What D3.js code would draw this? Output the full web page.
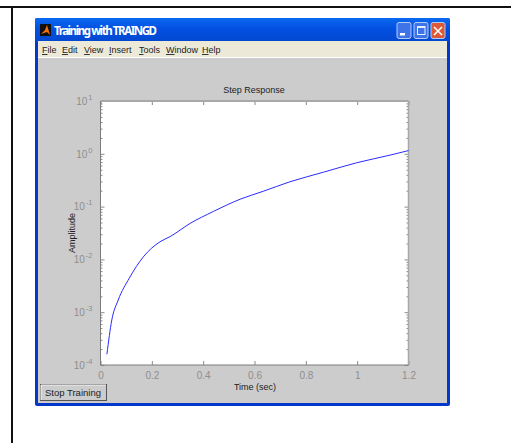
<!DOCTYPE html>
<meta charset="utf-8">
<style>
  body { margin: 0; background: #fff; overflow: hidden; }
  text { font-family: "Liberation Sans", Arial, sans-serif; }
  .tick text { fill: #8e8e8e; font-size: 10px; }
  .tick line { stroke: #8a8a8a; }
  .domain { display: none; }
</style>
<script src="https://d3js.org/d3.v7.min.js"></script>
<svg id="fig" width="511" height="443"></svg>
<script>

// step response
var times = [0.025, 0.044, 0.069, 0.112, 0.167, 0.232, 0.271, 0.349, 0.44, 0.544, 0.634, 0.738, 0.868, 0.998, 1.128, 1.2];
var amplitude = [1.6e-4, 7.1e-4, 1.7e-3, 4.4e-3, 1.12e-2, 2.16e-2, 2.7e-2, 4.8e-2, 8.1e-2, 0.138, 0.195, 0.295, 0.447, 0.676, 0.944, 1.15];

var xTicks = [0, 0.2, 0.4, 0.6, 0.8, 1, 1.2];
var decades = [-4, -3, -2, -1, 0, 1];
var menuItems = ["File", "Edit", "View", "Insert", "Tools", "Window", "Help"];
var menuPos = [42, 62, 84, 109, 139, 166, 202];

var svg = d3.select("#fig");

// page frame
svg.append("rect").attr("x", 0).attr("y", 6).attr("width", 511).attr("height", 2).attr("fill", "#111");
svg.append("rect").attr("x", 11).attr("y", 6).attr("width", 2).attr("height", 437).attr("fill", "#111");

// window
var grad = svg.append("defs").append("linearGradient").attr("id", "titlebar").attr("x1", 0).attr("x2", 0).attr("y1", 0).attr("y2", 1);
grad.append("stop").attr("offset", "0%").attr("stop-color", "#0a6af0");
grad.append("stop").attr("offset", "45%").attr("stop-color", "#0350e0");
grad.append("stop").attr("offset", "100%").attr("stop-color", "#0248d0");

svg.append("rect").attr("x", 35).attr("y", 18).attr("width", 415).attr("height", 388).attr("rx", 2).attr("fill", "#0338c8");
svg.append("rect").attr("x", 35).attr("y", 18).attr("width", 415).attr("height", 24).attr("rx", 3).attr("fill", "url(#titlebar)");
svg.append("rect").attr("x", 38).attr("y", 41).attr("width", 409).attr("height", 16).attr("fill", "#ece9d8");
svg.append("rect").attr("x", 38).attr("y", 57).attr("width", 409).attr("height", 1).attr("fill", "#fff");
svg.append("rect").attr("x", 38).attr("y", 58).attr("width", 409).attr("height", 345).attr("fill", "#cccccc");

// title icon
svg.append("rect").attr("x", 40).attr("y", 24).attr("width", 11).attr("height", 12).attr("fill", "#101010");
svg.append("path").attr("d", "M41 34L45 30L47 25L50 35L47 32Z").attr("fill", "#f07010");
svg.append("text").attr("x", 54).attr("y", 35).attr("fill", "#fff").attr("font-size", 11.5).attr("font-weight", "bold")
  .style("font-family", "'Noto Sans', sans-serif").attr("textLength", 103).text("Training with TRAINGD");

// window buttons
var btnX = [397, 414, 431];
var btnFill = ["#3f73e8", "#3f73e8", "#dc5a38"];
svg.selectAll(".winbtn").data(btnX).enter().append("rect").attr("class", "winbtn")
  .attr("x", function(d) { return d; }).attr("y", 22.5).attr("width", 14).attr("height", 16).attr("rx", 2)
  .attr("fill", function(d, i) { return btnFill[i]; }).attr("stroke", "#b5ccf5").attr("stroke-width", 1);
svg.append("rect").attr("x", 400).attr("y", 33).attr("width", 5).attr("height", 2.5).attr("fill", "#fff");
svg.append("rect").attr("x", 417.5).attr("y", 26.5).attr("width", 7.5).attr("height", 8).attr("fill", "none").attr("stroke", "#e8eefc");
svg.append("rect").attr("x", 417.5).attr("y", 26).attr("width", 7.5).attr("height", 2).attr("fill", "#e8eefc");
svg.append("path").attr("d", "M434 27L442 35M442 27L434 35").attr("stroke", "#fff").attr("stroke-width", 1.6);

// menu
var menu = svg.append("g");
menuItems.forEach(function(m, i) {
  var t = menu.append("text").attr("x", menuPos[i]).attr("y", 53).attr("font-size", 9).attr("fill", "#222");
  t.append("tspan").style("text-decoration", "underline").text(m[0]);
  t.append("tspan").text(m.slice(1));
});

// axes
var x = d3.scaleLinear().domain([0, 1.2]).range([100.5, 408.5]);
var y = d3.scaleLog().domain([1e-4, 10]).range([365, 101]);

svg.append("rect").attr("x", x(0)).attr("y", y(10)).attr("width", x(1.2) - x(0)).attr("height", y(1e-4) - y(10)).attr("fill", "#fff");

var minor = [];
decades.slice(0, -1).forEach(function(d) {
  for (var k = 2; k < 10; k++) minor.push(k * Math.pow(10, d));
});
var major = decades.map(function(d) { return Math.pow(10, d); });

function logLabel(sel) {
  sel.selectAll(".tick text").each(function(d) {
    var t = d3.select(this).text("");
    t.append("tspan").text("10");
    t.append("tspan").attr("font-size", 7.5).attr("dy", -5).attr("dx", 1).text(Math.round(Math.log10(d)));
  });
}

svg.append("g").attr("transform", "translate(" + x(0) + ",0)")
  .call(d3.axisLeft(y).tickValues(major).tickSize(-4).tickPadding(8)).call(logLabel);
svg.append("g").attr("transform", "translate(" + x(0) + ",0)")
  .call(d3.axisLeft(y).tickValues(minor).tickSize(-2).tickFormat(""));
svg.append("g").attr("transform", "translate(" + x(1.2) + ",0)")
  .call(d3.axisRight(y).tickValues(major).tickSize(-4).tickFormat(""));
svg.append("g").attr("transform", "translate(" + x(1.2) + ",0)")
  .call(d3.axisRight(y).tickValues(minor).tickSize(-2).tickFormat(""));
svg.append("g").attr("transform", "translate(0," + y(1e-4) + ")")
  .call(d3.axisBottom(x).tickValues(xTicks).tickSize(-4).tickPadding(7).tickFormat(d3.format("")));
svg.append("g").attr("transform", "translate(0," + y(10) + ")")
  .call(d3.axisTop(x).tickValues(xTicks).tickSize(-4).tickFormat(""));

// box edges
svg.append("path").attr("d", "M" + x(0) + " " + y(10) + "H" + x(1.2)).attr("stroke", "#a8a8a8").attr("stroke-width", 2);
svg.append("path").attr("d", "M" + x(1.2) + " " + y(10) + "V" + y(1e-4)).attr("stroke", "#a8a8a8").attr("stroke-width", 1.5);
svg.append("path").attr("d", "M" + x(0) + " " + y(10) + "V" + y(1e-4) + "H" + x(1.2)).attr("fill", "none").attr("stroke", "#7c7c7c").attr("stroke-width", 1);

var line = d3.line().x(function(d, i) { return x(times[i]); }).y(function(d) { return y(d); }).curve(d3.curveMonotoneX);
svg.append("path").datum(amplitude).attr("d", line).attr("fill", "none").attr("stroke", "#2a2aff").attr("stroke-width", 1);

// labels
svg.append("text").attr("x", 254).attr("y", 93).attr("text-anchor", "middle").attr("font-size", 9).attr("fill", "#222").text("Step Response");
svg.append("text").attr("x", 255).attr("y", 390).attr("text-anchor", "middle").attr("font-size", 9).attr("fill", "#222").text("Time (sec)");
svg.append("text").attr("transform", "translate(75,233) rotate(-90)").attr("text-anchor", "middle").attr("font-size", 9).attr("fill", "#222").text("Amplitude");

// stop button
svg.append("rect").attr("x", 40.5).attr("y", 384.5).attr("width", 66).attr("height", 16).attr("fill", "#cccccc").attr("stroke", "#555");
svg.append("path").attr("d", "M41 400V385H106").attr("fill", "none").attr("stroke", "#f4f4f4");
svg.append("text").attr("x", 73).attr("y", 396).attr("text-anchor", "middle").attr("font-size", 9.5).attr("fill", "#222").text("Stop Training");

</script>
